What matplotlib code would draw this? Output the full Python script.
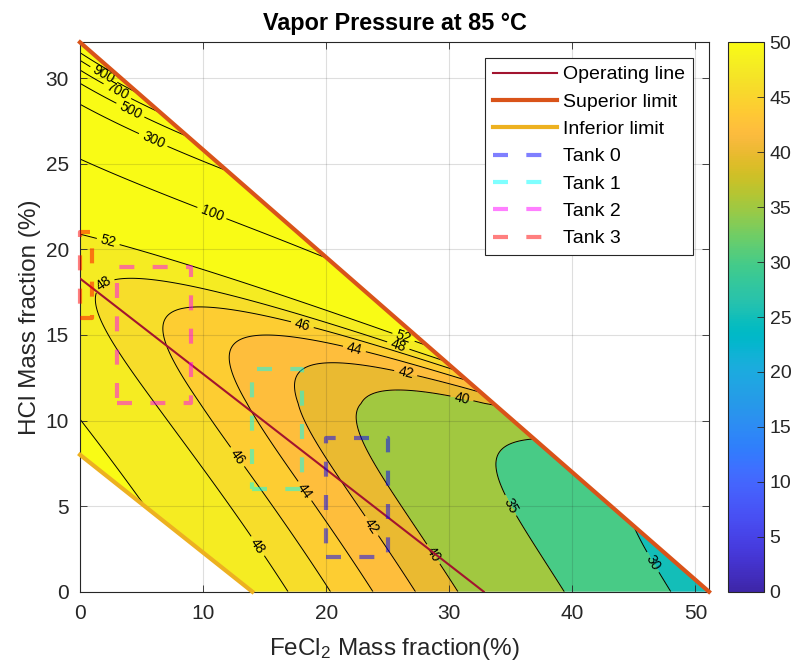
import numpy as np
import matplotlib
matplotlib.use("Agg")
import matplotlib.pyplot as plt
from matplotlib.colors import LinearSegmentedColormap, Normalize
from matplotlib.cm import ScalarMappable
from matplotlib.patches import Polygon

plt.rcParams["font.family"] = ["Liberation Sans", "DejaVu Sans"]
plt.rcParams["mathtext.fontset"] = "custom"
plt.rcParams["mathtext.rm"] = "Liberation Sans"
plt.rcParams["mathtext.it"] = "Liberation Sans:italic"

# ---------------------------------------------------------------- data
temperature_c = 85
p_water_sat = 57.8          # kPa, pure water at 85 °C
k_fecl2 = 0.58              # water-pressure drop per % FeCl2
k_hcl_1 = 0.52              # water-pressure drop per % HCl (linear term)
k_hcl_2 = 0.006             # water-pressure drop per %² HCl (quadratic term)
hcl_a = -7.675              # ln of HCl partial pressure at zero composition
hcl_b = 0.465               # HCl volatility growth per % HCl
hcl_e = 0.14                # salting-out effect of FeCl2 on HCl
hcl_e_lo = 0.0043           # weaker salting-out in dilute acid
hcl_e_lo_knee = 11          # % HCl below which the weaker term applies
hcl_e_hi = 0.0006           # extra salting-out in strong acid
hcl_e_hi_knee = 20          # % HCl above which the extra term applies

contour_levels = [25, 30, 35, 40, 42, 44, 46, 48, 52,
                  100, 300, 500, 700, 900, 1100]
color_limits = [0, 50]

operating_x = [0, 32.8]
operating_y = [18.3, 0]
superior_x = [0, 51.1]
superior_y = [32.1, 0]
inferior_x = [0, 14]
inferior_y = [8, 0]

tank_names = ["Tank 0", "Tank 1", "Tank 2", "Tank 3"]
tank_fecl2 = [(20, 25), (14, 18), (3, 9), (0, 1)]
tank_hcl = [(2, 9), (6, 13), (11, 19), (16, 21)]

x_ticks = [0, 10, 20, 30, 40, 50]
y_ticks = [0, 5, 10, 15, 20, 25, 30]
cbar_ticks = [0, 5, 10, 15, 20, 25, 30, 35, 40, 45, 50]

# ---------------------------------------------------------------- colormap
parula_rgb = [
    (0.2422, 0.1504, 0.6603), (0.2504, 0.1650, 0.7076), (0.2578, 0.1818, 0.7511),
    (0.2647, 0.1978, 0.7952), (0.2706, 0.2147, 0.8364), (0.2751, 0.2342, 0.8710),
    (0.2783, 0.2559, 0.8991), (0.2803, 0.2782, 0.9221), (0.2813, 0.3006, 0.9414),
    (0.2810, 0.3228, 0.9579), (0.2795, 0.3447, 0.9717), (0.2760, 0.3667, 0.9829),
    (0.2699, 0.3892, 0.9906), (0.2602, 0.4123, 0.9952), (0.2440, 0.4358, 0.9988),
    (0.2206, 0.4603, 0.9973), (0.1963, 0.4847, 0.9892), (0.1834, 0.5074, 0.9798),
    (0.1786, 0.5289, 0.9682), (0.1764, 0.5499, 0.9520), (0.1687, 0.5703, 0.9359),
    (0.1540, 0.5902, 0.9218), (0.1460, 0.6091, 0.9079), (0.1380, 0.6276, 0.8973),
    (0.1248, 0.6459, 0.8883), (0.1113, 0.6635, 0.8763), (0.0952, 0.6798, 0.8598),
    (0.0689, 0.6948, 0.8394), (0.0297, 0.7082, 0.8163), (0.0036, 0.7203, 0.7917),
    (0.0067, 0.7312, 0.7660), (0.0433, 0.7411, 0.7394), (0.0964, 0.7500, 0.7120),
    (0.1408, 0.7584, 0.6842), (0.1717, 0.7670, 0.6554), (0.1938, 0.7758, 0.6251),
    (0.2161, 0.7843, 0.5923), (0.2470, 0.7918, 0.5567), (0.2906, 0.7973, 0.5188),
    (0.3406, 0.8008, 0.4789), (0.3909, 0.8029, 0.4354), (0.4456, 0.8024, 0.3909),
    (0.5044, 0.7993, 0.3480), (0.5616, 0.7942, 0.3045), (0.6174, 0.7876, 0.2612),
    (0.6720, 0.7793, 0.2227), (0.7242, 0.7698, 0.1910), (0.7738, 0.7598, 0.1646),
    (0.8203, 0.7498, 0.1535), (0.8634, 0.7406, 0.1596), (0.9035, 0.7330, 0.1774),
    (0.9393, 0.7288, 0.2100), (0.9728, 0.7298, 0.2394), (0.9956, 0.7434, 0.2371),
    (0.9970, 0.7659, 0.2199), (0.9952, 0.7893, 0.2028), (0.9892, 0.8136, 0.1885),
    (0.9786, 0.8386, 0.1766), (0.9676, 0.8639, 0.1643), (0.9610, 0.8890, 0.1537),
    (0.9597, 0.9135, 0.1423), (0.9628, 0.9373, 0.1265), (0.9691, 0.9606, 0.1064),
    (0.9769, 0.9839, 0.0805),
]
parula = LinearSegmentedColormap.from_list("parula", parula_rgb, N=256)
norm = Normalize(*color_limits)

# ---------------------------------------------------------------- figure
W, H = 794, 668
fig = plt.figure(figsize=(W / 100, H / 100), dpi=100)
ax = fig.add_axes([80 / W, 1 - 591.7 / H, 629 / W, 549.4 / H])
cax = fig.add_axes([728 / W, 1 - 591.7 / H, 36 / W, 549.4 / H])

xg = np.linspace(0, max(superior_x), 600)
yg = np.linspace(0, max(superior_y), 500)
X, Y = np.meshgrid(xg, yg)
P_water = p_water_sat - k_fecl2 * X - k_hcl_1 * Y - k_hcl_2 * Y ** 2
salting = (hcl_e
           + hcl_e_lo * np.clip(Y - hcl_e_lo_knee, None, 0)
           + hcl_e_hi * np.clip(Y - hcl_e_hi_knee, 0, None) ** 2)
P_hcl = np.exp(hcl_a + hcl_b * Y + salting * X)
P = P_water + P_hcl

# feasible composition region between the two limits
region = Polygon([(inferior_x[0], inferior_y[0]), (superior_x[0], superior_y[0]),
                  (superior_x[1], superior_y[1]), (inferior_x[1], inferior_y[1])],
                 closed=True, transform=ax.transData, facecolor="none", edgecolor="none")
ax.add_patch(region)

fill_levels = contour_levels + [1e9]
band_colors = [parula(norm(min(lv, color_limits[1]))) for lv in contour_levels]
cf = ax.contourf(X, Y, P, levels=fill_levels, colors=band_colors, zorder=1)
cf.set_clip_path(region)
cl = ax.contour(X, Y, P, levels=contour_levels, colors="k", linewidths=0.7, zorder=2)
cl.set_clip_path(region)

label_spots = [
    (2.0, 30.3), (3.0, 29.2), (4.1, 28.15), (5.95, 26.4), (10.7, 22.1),
    (2.4, 20.75), (1.9, 18.0), (18.1, 15.7), (26.2, 14.7), (25.8, 14.25),
    (22.3, 14.2), (26.5, 12.9), (31.0, 11.2), (12.45, 7.7), (18.0, 5.75),
    (23.6, 3.8), (28.4, 2.05), (14.2, 2.55), (34.8, 4.97), (46.6, 1.75),
]
ax.clabel(cl, manual=label_spots, inline=True, fmt="%d", fontsize=10,
          colors="k", inline_spacing=4)

# ---------------------------------------------------------------- lines
h_op, = ax.plot(operating_x, operating_y, color="#A2142F", lw=1.5,
                label="Operating line", zorder=4)
h_sup, = ax.plot(superior_x, superior_y, color="#D95319", lw=3.0,
                 label="Superior limit", zorder=4, clip_on=False)
h_inf, = ax.plot(inferior_x, inferior_y, color="#EDB120", lw=3.0,
                 label="Inferior limit", zorder=4, clip_on=False)

tank_colors = ["blue", "cyan", "magenta", "red"]
tank_handles = []
for name, (x0, x1), (y0, y1), c in zip(tank_names, tank_fecl2, tank_hcl, tank_colors):
    h, = ax.plot([x0, x1, x1, x0, x0], [y0, y0, y1, y1, y0], color=c, alpha=0.5,
                 lw=3.0, linestyle=(0, (3.6, 4.4)), dash_capstyle="butt",
                 label=name, zorder=5, clip_on=False)
    tank_handles.append(h)

# ---------------------------------------------------------------- axes styling
txt = "#262626"
ax.set_xlim(0, max(superior_x))
ax.set_ylim(0, max(superior_y))
ax.set_xticks(x_ticks)
ax.set_yticks(y_ticks)
ax.tick_params(direction="in", length=5, width=0.6, top=True, right=True,
               labelsize=15, colors=txt)
ax.tick_params(axis="x", pad=9)
ax.tick_params(axis="y", pad=8)
for s in ax.spines.values():
    s.set_color(txt)
    s.set_linewidth(0.8)
ax.set_axisbelow(False)
ax.grid(True, color="#262626", alpha=0.15, lw=0.8)

ax.set_xlabel(r"FeCl$_\mathregular{2}$ Mass fraction(%)", fontsize=17.5, color=txt,
              labelpad=9)
ax.set_ylabel("HCl Mass fraction (%)", fontsize=17.5, color=txt, labelpad=3.5)
ax.set_title(f"Vapor Pressure at {temperature_c} °C", fontsize=16.8,
             fontweight="bold", color="black", pad=9)

leg = ax.legend(handles=[h_op, h_sup, h_inf] + tank_handles, loc="upper right",
                bbox_to_anchor=(0.9746, 0.9714), fontsize=14, frameon=True,
                fancybox=False, framealpha=1, edgecolor="#262626",
                handlelength=3.3, handletextpad=0.31, labelspacing=0.5,
                borderpad=0.4, borderaxespad=0.0)
leg.get_frame().set_linewidth(0.8)
for t in leg.get_texts():
    t.set_color("black")

# ---------------------------------------------------------------- colorbar
cb = fig.colorbar(ScalarMappable(norm=norm, cmap=parula), cax=cax, ticks=cbar_ticks)
cb.ax.tick_params(direction="in", length=5, width=0.6, labelsize=14, colors=txt, pad=4)
cb.outline.set_edgecolor(txt)
cb.outline.set_linewidth(0.8)

fig.savefig("out.png", dpi=100)
